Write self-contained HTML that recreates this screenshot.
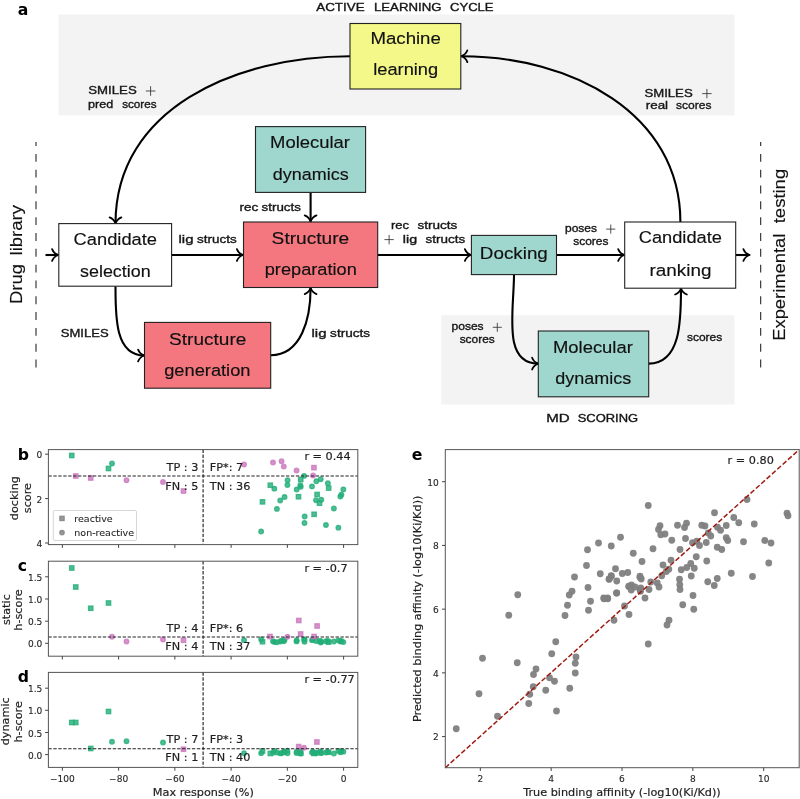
<!DOCTYPE html>
<html lang="en"><head><meta charset="utf-8"><title>Active learning cycle figure</title>
<style>html,body{margin:0;padding:0;background:#fff;}svg{display:block;}</style></head>
<body>
<svg width="800" height="799" viewBox="0 0 800 799">
<rect width="800" height="799" fill="#ffffff"/>
<rect x="58.5" y="14.5" width="676" height="101" fill="#f3f3f3"/>
<rect x="441.2" y="315.2" width="293.3" height="89.3" fill="#f3f3f3"/>
<path d="M350,56.2 C235.35,56.20 115.50,108.85 115.5,223.5" fill="none" stroke="#000000" stroke-width="2.1"/>
<path transform="translate(115.50 223.50) rotate(-270)" d="M-6.1,-5.9 C-5,-3 -2.7,-0.9 0.2,0 C-2.7,0.9 -5,3 -6.1,5.9" fill="none" stroke="#000000" stroke-width="1.78" stroke-linecap="round" stroke-linejoin="round"/>
<path d="M680.4,222 C680.40,112.64 570.66,56.20 461.3,56.2" fill="none" stroke="#000000" stroke-width="2.1"/>
<path transform="translate(461.30 56.20) rotate(-180)" d="M-6.1,-5.9 C-5,-3 -2.7,-0.9 0.2,0 C-2.7,0.9 -5,3 -6.1,5.9" fill="none" stroke="#000000" stroke-width="1.78" stroke-linecap="round" stroke-linejoin="round"/>
<path d="M310.6,192.5 L310.6,221.5" fill="none" stroke="#000000" stroke-width="2.1"/>
<path transform="translate(310.60 221.50) rotate(90.0)" d="M-6.1,-5.9 C-5,-3 -2.7,-0.9 0.2,0 C-2.7,0.9 -5,3 -6.1,5.9" fill="none" stroke="#000000" stroke-width="1.78" stroke-linecap="round" stroke-linejoin="round"/>
<path d="M45.5,255.0 L58.2,255.0" fill="none" stroke="#000000" stroke-width="2.1"/>
<path transform="translate(58.20 255.00) rotate(0.0)" d="M-6.1,-5.9 C-5,-3 -2.7,-0.9 0.2,0 C-2.7,0.9 -5,3 -6.1,5.9" fill="none" stroke="#000000" stroke-width="1.78" stroke-linecap="round" stroke-linejoin="round"/>
<path d="M171.7,255.0 L243,255.0" fill="none" stroke="#000000" stroke-width="2.1"/>
<path transform="translate(243.00 255.00) rotate(0.0)" d="M-6.1,-5.9 C-5,-3 -2.7,-0.9 0.2,0 C-2.7,0.9 -5,3 -6.1,5.9" fill="none" stroke="#000000" stroke-width="1.78" stroke-linecap="round" stroke-linejoin="round"/>
<path d="M377.7,255.0 L471,255.0" fill="none" stroke="#000000" stroke-width="2.1"/>
<path transform="translate(471.00 255.00) rotate(0.0)" d="M-6.1,-5.9 C-5,-3 -2.7,-0.9 0.2,0 C-2.7,0.9 -5,3 -6.1,5.9" fill="none" stroke="#000000" stroke-width="1.78" stroke-linecap="round" stroke-linejoin="round"/>
<path d="M556.5,255.0 L624.3,255.0" fill="none" stroke="#000000" stroke-width="2.1"/>
<path transform="translate(624.30 255.00) rotate(0.0)" d="M-6.1,-5.9 C-5,-3 -2.7,-0.9 0.2,0 C-2.7,0.9 -5,3 -6.1,5.9" fill="none" stroke="#000000" stroke-width="1.78" stroke-linecap="round" stroke-linejoin="round"/>
<path d="M735.7,255.0 L749.5,255.0" fill="none" stroke="#000000" stroke-width="2.1"/>
<path transform="translate(749.50 255.00) rotate(0.0)" d="M-6.1,-5.9 C-5,-3 -2.7,-0.9 0.2,0 C-2.7,0.9 -5,3 -6.1,5.9" fill="none" stroke="#000000" stroke-width="1.78" stroke-linecap="round" stroke-linejoin="round"/>
<path d="M115.5,286.2 C115.50,315.57 114.83,355.50 144.2,355.5" fill="none" stroke="#000000" stroke-width="2.1"/>
<path transform="translate(144.20 355.50) rotate(-360)" d="M-6.1,-5.9 C-5,-3 -2.7,-0.9 0.2,0 C-2.7,0.9 -5,3 -6.1,5.9" fill="none" stroke="#000000" stroke-width="1.78" stroke-linecap="round" stroke-linejoin="round"/>
<path d="M270.8,355.2 C301.38,355.20 310.60,318.58 310.6,288" fill="none" stroke="#000000" stroke-width="2.1"/>
<path transform="translate(310.60 288.00) rotate(-90)" d="M-6.1,-5.9 C-5,-3 -2.7,-0.9 0.2,0 C-2.7,0.9 -5,3 -6.1,5.9" fill="none" stroke="#000000" stroke-width="1.78" stroke-linecap="round" stroke-linejoin="round"/>
<path d="M514,274.6 C514.00,310.71 502.09,363.60 538.2,363.6" fill="none" stroke="#000000" stroke-width="2.1"/>
<path transform="translate(538.20 363.60) rotate(-360)" d="M-6.1,-5.9 C-5,-3 -2.7,-0.9 0.2,0 C-2.7,0.9 -5,3 -6.1,5.9" fill="none" stroke="#000000" stroke-width="1.78" stroke-linecap="round" stroke-linejoin="round"/>
<path d="M648.7,363.6 C680.74,363.60 681.00,320.44 681,288.4" fill="none" stroke="#000000" stroke-width="2.1"/>
<path transform="translate(681.00 288.40) rotate(-90)" d="M-6.1,-5.9 C-5,-3 -2.7,-0.9 0.2,0 C-2.7,0.9 -5,3 -6.1,5.9" fill="none" stroke="#000000" stroke-width="1.78" stroke-linecap="round" stroke-linejoin="round"/>
<rect x="350" y="23.5" width="110.80" height="65.50" fill="#f3f888" stroke="#222222" stroke-width="1.1"/>
<rect x="255.5" y="126.6" width="110.10" height="65.80" fill="#9fd6ce" stroke="#222222" stroke-width="1.1"/>
<rect x="58.8" y="223.6" width="112.80" height="62.60" fill="#ffffff" stroke="#222222" stroke-width="1.1"/>
<rect x="243.5" y="222" width="134.20" height="65.50" fill="#f4777f" stroke="#222222" stroke-width="1.1"/>
<rect x="471.4" y="235.4" width="85.10" height="39.20" fill="#9fd6ce" stroke="#222222" stroke-width="1.1"/>
<rect x="624.7" y="222" width="111.00" height="66.20" fill="#ffffff" stroke="#222222" stroke-width="1.1"/>
<rect x="144.5" y="322.4" width="126.20" height="65.80" fill="#f4777f" stroke="#222222" stroke-width="1.1"/>
<rect x="538.3" y="331" width="110.40" height="65.80" fill="#9fd6ce" stroke="#222222" stroke-width="1.1"/>
<path d="M36.0,142 V367.7" stroke="#3a3a3a" stroke-width="1.2" stroke-dasharray="7.9 7.92" stroke-dashoffset="3.92" fill="none"/>
<path d="M760.65,142 V367.7" stroke="#3a3a3a" stroke-width="1.2" stroke-dasharray="7.9 7.92" stroke-dashoffset="3.92" fill="none"/>
<text x="370.47" y="44.20" font-family='"Liberation Sans", sans-serif' font-size="16.8" textLength="70.35" lengthAdjust="spacingAndGlyphs" fill="#111111" stroke="#111111" stroke-width="0.15">Machine</text>
<text x="373.27" y="75.00" font-family='"Liberation Sans", sans-serif' font-size="16.8" textLength="64.90" lengthAdjust="spacingAndGlyphs" fill="#111111" stroke="#111111" stroke-width="0.15">learning</text>
<text x="270.09" y="148.00" font-family='"Liberation Sans", sans-serif' font-size="16.8" textLength="79.82" lengthAdjust="spacingAndGlyphs" fill="#111111" stroke="#111111" stroke-width="0.15">Molecular</text>
<text x="272.85" y="180.00" font-family='"Liberation Sans", sans-serif' font-size="16.8" textLength="75.80" lengthAdjust="spacingAndGlyphs" fill="#111111" stroke="#111111" stroke-width="0.15">dynamics</text>
<text x="73.57" y="245.00" font-family='"Liberation Sans", sans-serif' font-size="16.8" textLength="83.44" lengthAdjust="spacingAndGlyphs" fill="#111111" stroke="#111111" stroke-width="0.15">Candidate</text>
<text x="80.00" y="276.80" font-family='"Liberation Sans", sans-serif' font-size="16.8" textLength="70.66" lengthAdjust="spacingAndGlyphs" fill="#111111" stroke="#111111" stroke-width="0.15">selection</text>
<text x="271.63" y="243.60" font-family='"Liberation Sans", sans-serif' font-size="16.8" textLength="77.62" lengthAdjust="spacingAndGlyphs" fill="#111111" stroke="#111111" stroke-width="0.15">Structure</text>
<text x="264.73" y="275.40" font-family='"Liberation Sans", sans-serif' font-size="16.8" textLength="92.05" lengthAdjust="spacingAndGlyphs" fill="#111111" stroke="#111111" stroke-width="0.15">preparation</text>
<text x="479.86" y="259.00" font-family='"Liberation Sans", sans-serif' font-size="16.8" textLength="67.96" lengthAdjust="spacingAndGlyphs" fill="#111111" stroke="#111111" stroke-width="0.15">Docking</text>
<text x="638.77" y="243.30" font-family='"Liberation Sans", sans-serif' font-size="16.8" textLength="83.14" lengthAdjust="spacingAndGlyphs" fill="#111111" stroke="#111111" stroke-width="0.15">Candidate</text>
<text x="649.45" y="275.50" font-family='"Liberation Sans", sans-serif' font-size="16.8" textLength="61.97" lengthAdjust="spacingAndGlyphs" fill="#111111" stroke="#111111" stroke-width="0.15">ranking</text>
<text x="169.14" y="344.50" font-family='"Liberation Sans", sans-serif' font-size="16.8" textLength="77.21" lengthAdjust="spacingAndGlyphs" fill="#111111" stroke="#111111" stroke-width="0.15">Structure</text>
<text x="164.23" y="375.50" font-family='"Liberation Sans", sans-serif' font-size="16.8" textLength="86.25" lengthAdjust="spacingAndGlyphs" fill="#111111" stroke="#111111" stroke-width="0.15">generation</text>
<text x="552.99" y="352.60" font-family='"Liberation Sans", sans-serif' font-size="16.8" textLength="79.82" lengthAdjust="spacingAndGlyphs" fill="#111111" stroke="#111111" stroke-width="0.15">Molecular</text>
<text x="555.25" y="383.70" font-family='"Liberation Sans", sans-serif' font-size="16.8" textLength="75.90" lengthAdjust="spacingAndGlyphs" fill="#111111" stroke="#111111" stroke-width="0.15">dynamics</text>
<text x="316.27" y="10.50" font-family='"Liberation Sans", sans-serif' font-size="11.4" textLength="48.30" lengthAdjust="spacingAndGlyphs" fill="#161616" stroke="#161616" stroke-width="0.36">ACTIVE</text>
<text x="373.92" y="10.50" font-family='"Liberation Sans", sans-serif' font-size="11.4" textLength="67.57" lengthAdjust="spacingAndGlyphs" fill="#161616" stroke="#161616" stroke-width="0.36">LEARNING</text>
<text x="450.14" y="10.50" font-family='"Liberation Sans", sans-serif' font-size="11.4" textLength="43.42" lengthAdjust="spacingAndGlyphs" fill="#161616" stroke="#161616" stroke-width="0.36">CYCLE</text>
<text x="546.26" y="421.50" font-family='"Liberation Sans", sans-serif' font-size="11.4" textLength="23.46" lengthAdjust="spacingAndGlyphs" fill="#161616" stroke="#161616" stroke-width="0.36">MD</text>
<text x="577.71" y="421.50" font-family='"Liberation Sans", sans-serif' font-size="11.4" textLength="60.46" lengthAdjust="spacingAndGlyphs" fill="#161616" stroke="#161616" stroke-width="0.36">SCORING</text>
<text x="88.30" y="94.20" font-family='"Liberation Sans", sans-serif' font-size="11.4" textLength="48.40" lengthAdjust="spacingAndGlyphs" fill="#161616" stroke="#161616" stroke-width="0.36">SMILES</text>
<path d="M145.8,91 H155.4 M150.60000000000002,86.2 V95.8" stroke="#333" stroke-width="0.85" fill="none"/>
<text x="88.09" y="107.60" font-family='"Liberation Sans", sans-serif' font-size="11.4" textLength="25.22" lengthAdjust="spacingAndGlyphs" fill="#161616" stroke="#161616" stroke-width="0.36">pred</text>
<text x="122.17" y="107.60" font-family='"Liberation Sans", sans-serif' font-size="11.4" textLength="34.45" lengthAdjust="spacingAndGlyphs" fill="#161616" stroke="#161616" stroke-width="0.36">scores</text>
<text x="644.40" y="96.80" font-family='"Liberation Sans", sans-serif' font-size="11.4" textLength="48.30" lengthAdjust="spacingAndGlyphs" fill="#161616" stroke="#161616" stroke-width="0.36">SMILES</text>
<path d="M702.2,93.6 H711.6 M706.9000000000001,88.9 V98.29999999999998" stroke="#333" stroke-width="0.85" fill="none"/>
<text x="645.71" y="109.40" font-family='"Liberation Sans", sans-serif' font-size="11.4" textLength="22.39" lengthAdjust="spacingAndGlyphs" fill="#161616" stroke="#161616" stroke-width="0.36">real</text>
<text x="676.07" y="109.40" font-family='"Liberation Sans", sans-serif' font-size="11.4" textLength="35.37" lengthAdjust="spacingAndGlyphs" fill="#161616" stroke="#161616" stroke-width="0.36">scores</text>
<text x="239.50" y="211.00" font-family='"Liberation Sans", sans-serif' font-size="11.4" textLength="18.86" lengthAdjust="spacingAndGlyphs" fill="#161616" stroke="#161616" stroke-width="0.36">rec</text>
<text x="261.63" y="211.00" font-family='"Liberation Sans", sans-serif' font-size="11.4" textLength="39.25" lengthAdjust="spacingAndGlyphs" fill="#161616" stroke="#161616" stroke-width="0.36">structs</text>
<text x="178.49" y="242.50" font-family='"Liberation Sans", sans-serif' font-size="11.4" textLength="14.97" lengthAdjust="spacingAndGlyphs" fill="#161616" stroke="#161616" stroke-width="0.36">lig</text>
<text x="197.13" y="242.50" font-family='"Liberation Sans", sans-serif' font-size="11.4" textLength="39.56" lengthAdjust="spacingAndGlyphs" fill="#161616" stroke="#161616" stroke-width="0.36">structs</text>
<text x="391.04" y="229.40" font-family='"Liberation Sans", sans-serif' font-size="11.4" textLength="18.00" lengthAdjust="spacingAndGlyphs" fill="#161616" stroke="#161616" stroke-width="0.36">rec</text>
<text x="417.52" y="229.40" font-family='"Liberation Sans", sans-serif' font-size="11.4" textLength="39.87" lengthAdjust="spacingAndGlyphs" fill="#161616" stroke="#161616" stroke-width="0.36">structs</text>
<path d="M384.4,239.6 H393.8 M389.1,234.89999999999998 V244.3" stroke="#333" stroke-width="0.85" fill="none"/>
<text x="402.84" y="242.50" font-family='"Liberation Sans", sans-serif' font-size="11.4" textLength="14.28" lengthAdjust="spacingAndGlyphs" fill="#161616" stroke="#161616" stroke-width="0.36">lig</text>
<text x="425.63" y="242.50" font-family='"Liberation Sans", sans-serif' font-size="11.4" textLength="39.56" lengthAdjust="spacingAndGlyphs" fill="#161616" stroke="#161616" stroke-width="0.36">structs</text>
<text x="565.03" y="232.00" font-family='"Liberation Sans", sans-serif' font-size="11.4" textLength="32.01" lengthAdjust="spacingAndGlyphs" fill="#161616" stroke="#161616" stroke-width="0.36">poses</text>
<path d="M606.2,229.1 H615.3 M610.75,224.55000000000004 V233.64999999999995" stroke="#333" stroke-width="0.85" fill="none"/>
<text x="573.27" y="245.30" font-family='"Liberation Sans", sans-serif' font-size="11.4" textLength="35.16" lengthAdjust="spacingAndGlyphs" fill="#161616" stroke="#161616" stroke-width="0.36">scores</text>
<text x="60.71" y="336.80" font-family='"Liberation Sans", sans-serif' font-size="11.4" textLength="47.89" lengthAdjust="spacingAndGlyphs" fill="#161616" stroke="#161616" stroke-width="0.36">SMILES</text>
<text x="311.49" y="336.80" font-family='"Liberation Sans", sans-serif' font-size="11.4" textLength="14.97" lengthAdjust="spacingAndGlyphs" fill="#161616" stroke="#161616" stroke-width="0.36">lig</text>
<text x="330.12" y="336.80" font-family='"Liberation Sans", sans-serif' font-size="11.4" textLength="39.87" lengthAdjust="spacingAndGlyphs" fill="#161616" stroke="#161616" stroke-width="0.36">structs</text>
<text x="451.52" y="330.30" font-family='"Liberation Sans", sans-serif' font-size="11.4" textLength="32.11" lengthAdjust="spacingAndGlyphs" fill="#161616" stroke="#161616" stroke-width="0.36">poses</text>
<path d="M492.8,327.3 H501.8 M497.3,322.8 V331.8" stroke="#333" stroke-width="0.85" fill="none"/>
<text x="459.67" y="343.30" font-family='"Liberation Sans", sans-serif' font-size="11.4" textLength="35.06" lengthAdjust="spacingAndGlyphs" fill="#161616" stroke="#161616" stroke-width="0.36">scores</text>
<text x="686.97" y="341.20" font-family='"Liberation Sans", sans-serif' font-size="11.4" textLength="35.27" lengthAdjust="spacingAndGlyphs" fill="#161616" stroke="#161616" stroke-width="0.36">scores</text>
<text x="22.20" y="304.02" font-family='"Liberation Sans", sans-serif' font-size="16.8" textLength="40.22" lengthAdjust="spacingAndGlyphs" transform="rotate(-90 22.20 304.02)" fill="#111111" stroke="#111111" stroke-width="0.15">Drug</text>
<text x="22.20" y="255.45" font-family='"Liberation Sans", sans-serif' font-size="16.8" textLength="50.49" lengthAdjust="spacingAndGlyphs" transform="rotate(-90 22.20 255.45)" fill="#111111" stroke="#111111" stroke-width="0.15">library</text>
<text x="785.50" y="340.70" font-family='"Liberation Sans", sans-serif' font-size="16.8" textLength="106.93" lengthAdjust="spacingAndGlyphs" transform="rotate(-90 785.50 340.70)" fill="#111111" stroke="#111111" stroke-width="0.15">Experimental</text>
<text x="785.50" y="223.28" font-family='"Liberation Sans", sans-serif' font-size="16.8" textLength="54.47" lengthAdjust="spacingAndGlyphs" transform="rotate(-90 785.50 223.28)" fill="#111111" stroke="#111111" stroke-width="0.15">testing</text>
<text x="17.80" y="15.00" font-family='"DejaVu Sans", sans-serif' font-size="15.7" font-weight="bold" fill="#000">a</text>
<text x="17.80" y="459.95" font-family='"DejaVu Sans", sans-serif' font-size="15.7" font-weight="bold" fill="#000">b</text>
<text x="17.80" y="571.10" font-family='"DejaVu Sans", sans-serif' font-size="15.7" font-weight="bold" fill="#000">c</text>
<text x="17.80" y="682.30" font-family='"DejaVu Sans", sans-serif' font-size="15.7" font-weight="bold" fill="#000">d</text>
<text x="411.80" y="460.30" font-family='"DejaVu Sans", sans-serif' font-size="15.7" font-weight="bold" fill="#000">e</text>
<rect x="69.55" y="453.30" width="4.40" height="4.40" fill="#23ae78" fill-opacity="0.8" stroke="#23ae78" stroke-opacity="0.8" stroke-width="1.3"/>
<rect x="73.55" y="473.80" width="4.40" height="4.40" fill="#cc77be" fill-opacity="0.8" stroke="#cc77be" stroke-opacity="0.8" stroke-width="1.3"/>
<rect x="88.55" y="475.80" width="4.40" height="4.40" fill="#cc77be" fill-opacity="0.8" stroke="#cc77be" stroke-opacity="0.8" stroke-width="1.3"/>
<rect x="106.30" y="466.30" width="4.40" height="4.40" fill="#23ae78" fill-opacity="0.8" stroke="#23ae78" stroke-opacity="0.8" stroke-width="1.3"/>
<circle cx="112.00" cy="463.50" r="2.30" fill="#23ae78" fill-opacity="0.8" stroke="#23ae78" stroke-opacity="0.8" stroke-width="1.3"/>
<circle cx="126.50" cy="480.25" r="2.30" fill="#cc77be" fill-opacity="0.8" stroke="#cc77be" stroke-opacity="0.8" stroke-width="1.3"/>
<circle cx="163.00" cy="482.00" r="2.30" fill="#cc77be" fill-opacity="0.8" stroke="#cc77be" stroke-opacity="0.8" stroke-width="1.3"/>
<rect x="181.30" y="488.80" width="4.40" height="4.40" fill="#cc77be" fill-opacity="0.8" stroke="#cc77be" stroke-opacity="0.8" stroke-width="1.3"/>
<circle cx="244.05" cy="464.50" r="2.30" fill="#cc77be" fill-opacity="0.8" stroke="#cc77be" stroke-opacity="0.8" stroke-width="1.3"/>
<circle cx="273.00" cy="462.55" r="2.30" fill="#cc77be" fill-opacity="0.8" stroke="#cc77be" stroke-opacity="0.8" stroke-width="1.3"/>
<circle cx="281.55" cy="461.20" r="2.30" fill="#cc77be" fill-opacity="0.8" stroke="#cc77be" stroke-opacity="0.8" stroke-width="1.3"/>
<circle cx="283.80" cy="466.45" r="2.30" fill="#cc77be" fill-opacity="0.8" stroke="#cc77be" stroke-opacity="0.8" stroke-width="1.3"/>
<circle cx="296.55" cy="470.50" r="2.30" fill="#cc77be" fill-opacity="0.8" stroke="#cc77be" stroke-opacity="0.8" stroke-width="1.3"/>
<circle cx="313.05" cy="475.45" r="2.30" fill="#cc77be" fill-opacity="0.8" stroke="#cc77be" stroke-opacity="0.8" stroke-width="1.3"/>
<rect x="311.75" y="465.45" width="4.40" height="4.40" fill="#cc77be" fill-opacity="0.8" stroke="#cc77be" stroke-opacity="0.8" stroke-width="1.3"/>
<circle cx="304.05" cy="475.90" r="2.30" fill="#23ae78" fill-opacity="0.8" stroke="#23ae78" stroke-opacity="0.8" stroke-width="1.3"/>
<circle cx="287.55" cy="480.25" r="2.30" fill="#23ae78" fill-opacity="0.8" stroke="#23ae78" stroke-opacity="0.8" stroke-width="1.3"/>
<circle cx="287.40" cy="485.05" r="2.30" fill="#23ae78" fill-opacity="0.8" stroke="#23ae78" stroke-opacity="0.8" stroke-width="1.3"/>
<circle cx="274.35" cy="488.65" r="2.30" fill="#23ae78" fill-opacity="0.8" stroke="#23ae78" stroke-opacity="0.8" stroke-width="1.3"/>
<circle cx="300.30" cy="485.20" r="2.30" fill="#23ae78" fill-opacity="0.8" stroke="#23ae78" stroke-opacity="0.8" stroke-width="1.3"/>
<circle cx="300.75" cy="486.85" r="2.30" fill="#23ae78" fill-opacity="0.8" stroke="#23ae78" stroke-opacity="0.8" stroke-width="1.3"/>
<circle cx="296.70" cy="489.55" r="2.30" fill="#23ae78" fill-opacity="0.8" stroke="#23ae78" stroke-opacity="0.8" stroke-width="1.3"/>
<circle cx="312.00" cy="486.40" r="2.30" fill="#23ae78" fill-opacity="0.8" stroke="#23ae78" stroke-opacity="0.8" stroke-width="1.3"/>
<circle cx="316.35" cy="481.30" r="2.30" fill="#23ae78" fill-opacity="0.8" stroke="#23ae78" stroke-opacity="0.8" stroke-width="1.3"/>
<circle cx="320.70" cy="479.20" r="2.30" fill="#23ae78" fill-opacity="0.8" stroke="#23ae78" stroke-opacity="0.8" stroke-width="1.3"/>
<circle cx="327.90" cy="483.25" r="2.30" fill="#23ae78" fill-opacity="0.8" stroke="#23ae78" stroke-opacity="0.8" stroke-width="1.3"/>
<circle cx="343.35" cy="489.40" r="2.30" fill="#23ae78" fill-opacity="0.8" stroke="#23ae78" stroke-opacity="0.8" stroke-width="1.3"/>
<circle cx="341.40" cy="494.65" r="2.30" fill="#23ae78" fill-opacity="0.8" stroke="#23ae78" stroke-opacity="0.8" stroke-width="1.3"/>
<circle cx="340.35" cy="496.45" r="2.30" fill="#23ae78" fill-opacity="0.8" stroke="#23ae78" stroke-opacity="0.8" stroke-width="1.3"/>
<circle cx="284.55" cy="497.05" r="2.30" fill="#23ae78" fill-opacity="0.8" stroke="#23ae78" stroke-opacity="0.8" stroke-width="1.3"/>
<circle cx="280.20" cy="500.50" r="2.30" fill="#23ae78" fill-opacity="0.8" stroke="#23ae78" stroke-opacity="0.8" stroke-width="1.3"/>
<circle cx="276.90" cy="508.90" r="2.30" fill="#23ae78" fill-opacity="0.8" stroke="#23ae78" stroke-opacity="0.8" stroke-width="1.3"/>
<circle cx="316.05" cy="500.20" r="2.30" fill="#23ae78" fill-opacity="0.8" stroke="#23ae78" stroke-opacity="0.8" stroke-width="1.3"/>
<circle cx="321.30" cy="499.75" r="2.30" fill="#23ae78" fill-opacity="0.8" stroke="#23ae78" stroke-opacity="0.8" stroke-width="1.3"/>
<circle cx="333.90" cy="508.45" r="2.30" fill="#23ae78" fill-opacity="0.8" stroke="#23ae78" stroke-opacity="0.8" stroke-width="1.3"/>
<circle cx="304.65" cy="516.55" r="2.30" fill="#23ae78" fill-opacity="0.8" stroke="#23ae78" stroke-opacity="0.8" stroke-width="1.3"/>
<circle cx="304.50" cy="523.00" r="2.30" fill="#23ae78" fill-opacity="0.8" stroke="#23ae78" stroke-opacity="0.8" stroke-width="1.3"/>
<circle cx="325.95" cy="524.95" r="2.30" fill="#23ae78" fill-opacity="0.8" stroke="#23ae78" stroke-opacity="0.8" stroke-width="1.3"/>
<circle cx="338.40" cy="527.80" r="2.30" fill="#23ae78" fill-opacity="0.8" stroke="#23ae78" stroke-opacity="0.8" stroke-width="1.3"/>
<circle cx="261.15" cy="531.55" r="2.30" fill="#23ae78" fill-opacity="0.8" stroke="#23ae78" stroke-opacity="0.8" stroke-width="1.3"/>
<rect x="268.10" y="483.00" width="4.40" height="4.40" fill="#23ae78" fill-opacity="0.8" stroke="#23ae78" stroke-opacity="0.8" stroke-width="1.3"/>
<rect x="298.55" y="477.30" width="4.40" height="4.40" fill="#23ae78" fill-opacity="0.8" stroke="#23ae78" stroke-opacity="0.8" stroke-width="1.3"/>
<rect x="326.45" y="485.85" width="4.40" height="4.40" fill="#23ae78" fill-opacity="0.8" stroke="#23ae78" stroke-opacity="0.8" stroke-width="1.3"/>
<rect x="314.90" y="492.30" width="4.40" height="4.40" fill="#23ae78" fill-opacity="0.8" stroke="#23ae78" stroke-opacity="0.8" stroke-width="1.3"/>
<rect x="296.30" y="494.55" width="4.40" height="4.40" fill="#23ae78" fill-opacity="0.8" stroke="#23ae78" stroke-opacity="0.8" stroke-width="1.3"/>
<rect x="317.30" y="501.00" width="4.40" height="4.40" fill="#23ae78" fill-opacity="0.8" stroke="#23ae78" stroke-opacity="0.8" stroke-width="1.3"/>
<rect x="260.30" y="499.65" width="4.40" height="4.40" fill="#23ae78" fill-opacity="0.8" stroke="#23ae78" stroke-opacity="0.8" stroke-width="1.3"/>
<rect x="311.90" y="512.10" width="4.40" height="4.40" fill="#23ae78" fill-opacity="0.8" stroke="#23ae78" stroke-opacity="0.8" stroke-width="1.3"/>
<path d="M48.4,476.0 H357.8" stroke="#222" stroke-width="1.15" stroke-dasharray="3.35 1.6" fill="none"/>
<path d="M203.1,449.6 V544.6" stroke="#222" stroke-width="1.15" stroke-dasharray="3.35 1.6" fill="none"/>
<rect x="48.4" y="449.6" width="309.40" height="95.00" fill="none" stroke="#555555" stroke-width="1"/>
<path d="M62.35,544.6 v3.3" stroke="#444" stroke-width="1"/>
<path d="M118.60,544.6 v3.3" stroke="#444" stroke-width="1"/>
<path d="M174.85,544.6 v3.3" stroke="#444" stroke-width="1"/>
<path d="M231.10,544.6 v3.3" stroke="#444" stroke-width="1"/>
<path d="M287.35,544.6 v3.3" stroke="#444" stroke-width="1"/>
<path d="M343.60,544.6 v3.3" stroke="#444" stroke-width="1"/>
<rect x="69.55" y="565.80" width="4.40" height="4.40" fill="#23ae78" fill-opacity="0.8" stroke="#23ae78" stroke-opacity="0.8" stroke-width="1.3"/>
<rect x="73.55" y="584.80" width="4.40" height="4.40" fill="#23ae78" fill-opacity="0.8" stroke="#23ae78" stroke-opacity="0.8" stroke-width="1.3"/>
<rect x="88.55" y="606.05" width="4.40" height="4.40" fill="#23ae78" fill-opacity="0.8" stroke="#23ae78" stroke-opacity="0.8" stroke-width="1.3"/>
<rect x="106.30" y="600.80" width="4.40" height="4.40" fill="#23ae78" fill-opacity="0.8" stroke="#23ae78" stroke-opacity="0.8" stroke-width="1.3"/>
<circle cx="112.00" cy="636.75" r="2.30" fill="#cc77be" fill-opacity="0.8" stroke="#cc77be" stroke-opacity="0.8" stroke-width="1.3"/>
<circle cx="126.50" cy="641.50" r="2.30" fill="#cc77be" fill-opacity="0.8" stroke="#cc77be" stroke-opacity="0.8" stroke-width="1.3"/>
<circle cx="163.00" cy="639.50" r="2.30" fill="#cc77be" fill-opacity="0.8" stroke="#cc77be" stroke-opacity="0.8" stroke-width="1.3"/>
<rect x="181.30" y="638.05" width="4.40" height="4.40" fill="#cc77be" fill-opacity="0.8" stroke="#cc77be" stroke-opacity="0.8" stroke-width="1.3"/>
<circle cx="244.05" cy="640.16" r="2.30" fill="#23ae78" fill-opacity="0.8" stroke="#23ae78" stroke-opacity="0.8" stroke-width="1.3"/>
<circle cx="273.00" cy="641.14" r="2.30" fill="#23ae78" fill-opacity="0.8" stroke="#23ae78" stroke-opacity="0.8" stroke-width="1.3"/>
<circle cx="281.55" cy="640.58" r="2.30" fill="#23ae78" fill-opacity="0.8" stroke="#23ae78" stroke-opacity="0.8" stroke-width="1.3"/>
<circle cx="283.80" cy="641.33" r="2.30" fill="#23ae78" fill-opacity="0.8" stroke="#23ae78" stroke-opacity="0.8" stroke-width="1.3"/>
<circle cx="296.55" cy="641.40" r="2.30" fill="#23ae78" fill-opacity="0.8" stroke="#23ae78" stroke-opacity="0.8" stroke-width="1.3"/>
<circle cx="313.05" cy="639.61" r="2.30" fill="#23ae78" fill-opacity="0.8" stroke="#23ae78" stroke-opacity="0.8" stroke-width="1.3"/>
<circle cx="304.05" cy="639.44" r="2.30" fill="#23ae78" fill-opacity="0.8" stroke="#23ae78" stroke-opacity="0.8" stroke-width="1.3"/>
<circle cx="274.35" cy="642.08" r="2.30" fill="#23ae78" fill-opacity="0.8" stroke="#23ae78" stroke-opacity="0.8" stroke-width="1.3"/>
<circle cx="296.70" cy="640.23" r="2.30" fill="#23ae78" fill-opacity="0.8" stroke="#23ae78" stroke-opacity="0.8" stroke-width="1.3"/>
<circle cx="312.00" cy="640.15" r="2.30" fill="#23ae78" fill-opacity="0.8" stroke="#23ae78" stroke-opacity="0.8" stroke-width="1.3"/>
<circle cx="320.70" cy="642.59" r="2.30" fill="#23ae78" fill-opacity="0.8" stroke="#23ae78" stroke-opacity="0.8" stroke-width="1.3"/>
<circle cx="327.90" cy="640.90" r="2.30" fill="#23ae78" fill-opacity="0.8" stroke="#23ae78" stroke-opacity="0.8" stroke-width="1.3"/>
<circle cx="343.35" cy="642.08" r="2.30" fill="#23ae78" fill-opacity="0.8" stroke="#23ae78" stroke-opacity="0.8" stroke-width="1.3"/>
<circle cx="341.40" cy="640.92" r="2.30" fill="#23ae78" fill-opacity="0.8" stroke="#23ae78" stroke-opacity="0.8" stroke-width="1.3"/>
<circle cx="340.35" cy="641.45" r="2.30" fill="#23ae78" fill-opacity="0.8" stroke="#23ae78" stroke-opacity="0.8" stroke-width="1.3"/>
<circle cx="284.55" cy="639.88" r="2.30" fill="#23ae78" fill-opacity="0.8" stroke="#23ae78" stroke-opacity="0.8" stroke-width="1.3"/>
<circle cx="280.20" cy="641.43" r="2.30" fill="#23ae78" fill-opacity="0.8" stroke="#23ae78" stroke-opacity="0.8" stroke-width="1.3"/>
<circle cx="276.90" cy="642.18" r="2.30" fill="#23ae78" fill-opacity="0.8" stroke="#23ae78" stroke-opacity="0.8" stroke-width="1.3"/>
<circle cx="316.05" cy="641.07" r="2.30" fill="#23ae78" fill-opacity="0.8" stroke="#23ae78" stroke-opacity="0.8" stroke-width="1.3"/>
<circle cx="321.30" cy="641.77" r="2.30" fill="#23ae78" fill-opacity="0.8" stroke="#23ae78" stroke-opacity="0.8" stroke-width="1.3"/>
<circle cx="333.90" cy="641.55" r="2.30" fill="#23ae78" fill-opacity="0.8" stroke="#23ae78" stroke-opacity="0.8" stroke-width="1.3"/>
<circle cx="304.65" cy="639.60" r="2.30" fill="#23ae78" fill-opacity="0.8" stroke="#23ae78" stroke-opacity="0.8" stroke-width="1.3"/>
<circle cx="304.50" cy="641.83" r="2.30" fill="#23ae78" fill-opacity="0.8" stroke="#23ae78" stroke-opacity="0.8" stroke-width="1.3"/>
<circle cx="325.95" cy="641.29" r="2.30" fill="#23ae78" fill-opacity="0.8" stroke="#23ae78" stroke-opacity="0.8" stroke-width="1.3"/>
<circle cx="338.40" cy="640.36" r="2.30" fill="#23ae78" fill-opacity="0.8" stroke="#23ae78" stroke-opacity="0.8" stroke-width="1.3"/>
<circle cx="261.15" cy="639.50" r="2.30" fill="#23ae78" fill-opacity="0.8" stroke="#23ae78" stroke-opacity="0.8" stroke-width="1.3"/>
<rect x="326.45" y="639.97" width="4.40" height="4.40" fill="#23ae78" fill-opacity="0.8" stroke="#23ae78" stroke-opacity="0.8" stroke-width="1.3"/>
<rect x="317.30" y="638.71" width="4.40" height="4.40" fill="#23ae78" fill-opacity="0.8" stroke="#23ae78" stroke-opacity="0.8" stroke-width="1.3"/>
<rect x="260.30" y="639.50" width="4.40" height="4.40" fill="#23ae78" fill-opacity="0.8" stroke="#23ae78" stroke-opacity="0.8" stroke-width="1.3"/>
<rect x="296.60" y="618.30" width="4.40" height="4.40" fill="#cc77be" fill-opacity="0.8" stroke="#cc77be" stroke-opacity="0.8" stroke-width="1.3"/>
<rect x="314.90" y="623.80" width="4.40" height="4.40" fill="#cc77be" fill-opacity="0.8" stroke="#cc77be" stroke-opacity="0.8" stroke-width="1.3"/>
<rect x="298.40" y="631.80" width="4.40" height="4.40" fill="#cc77be" fill-opacity="0.8" stroke="#cc77be" stroke-opacity="0.8" stroke-width="1.3"/>
<rect x="267.80" y="634.30" width="4.40" height="4.40" fill="#cc77be" fill-opacity="0.8" stroke="#cc77be" stroke-opacity="0.8" stroke-width="1.3"/>
<rect x="311.90" y="634.30" width="4.40" height="4.40" fill="#cc77be" fill-opacity="0.8" stroke="#cc77be" stroke-opacity="0.8" stroke-width="1.3"/>
<circle cx="287.50" cy="636.70" r="2.30" fill="#cc77be" fill-opacity="0.8" stroke="#cc77be" stroke-opacity="0.8" stroke-width="1.3"/>
<path d="M48.4,637.0 H357.8" stroke="#222" stroke-width="1.15" stroke-dasharray="3.35 1.6" fill="none"/>
<path d="M203.1,561.2 V656.2" stroke="#222" stroke-width="1.15" stroke-dasharray="3.35 1.6" fill="none"/>
<rect x="48.4" y="561.2" width="309.40" height="95.00" fill="none" stroke="#555555" stroke-width="1"/>
<path d="M62.35,656.2 v3.3" stroke="#444" stroke-width="1"/>
<path d="M118.60,656.2 v3.3" stroke="#444" stroke-width="1"/>
<path d="M174.85,656.2 v3.3" stroke="#444" stroke-width="1"/>
<path d="M231.10,656.2 v3.3" stroke="#444" stroke-width="1"/>
<path d="M287.35,656.2 v3.3" stroke="#444" stroke-width="1"/>
<path d="M343.60,656.2 v3.3" stroke="#444" stroke-width="1"/>
<rect x="69.55" y="720.30" width="4.40" height="4.40" fill="#23ae78" fill-opacity="0.8" stroke="#23ae78" stroke-opacity="0.8" stroke-width="1.3"/>
<rect x="73.55" y="720.30" width="4.40" height="4.40" fill="#23ae78" fill-opacity="0.8" stroke="#23ae78" stroke-opacity="0.8" stroke-width="1.3"/>
<rect x="88.55" y="746.30" width="4.40" height="4.40" fill="#23ae78" fill-opacity="0.8" stroke="#23ae78" stroke-opacity="0.8" stroke-width="1.3"/>
<rect x="106.30" y="709.30" width="4.40" height="4.40" fill="#23ae78" fill-opacity="0.8" stroke="#23ae78" stroke-opacity="0.8" stroke-width="1.3"/>
<circle cx="112.00" cy="741.75" r="2.30" fill="#23ae78" fill-opacity="0.8" stroke="#23ae78" stroke-opacity="0.8" stroke-width="1.3"/>
<circle cx="126.50" cy="741.25" r="2.30" fill="#23ae78" fill-opacity="0.8" stroke="#23ae78" stroke-opacity="0.8" stroke-width="1.3"/>
<circle cx="163.00" cy="742.50" r="2.30" fill="#23ae78" fill-opacity="0.8" stroke="#23ae78" stroke-opacity="0.8" stroke-width="1.3"/>
<rect x="181.30" y="747.05" width="4.40" height="4.40" fill="#cc77be" fill-opacity="0.8" stroke="#cc77be" stroke-opacity="0.8" stroke-width="1.3"/>
<circle cx="244.05" cy="753.21" r="2.30" fill="#23ae78" fill-opacity="0.8" stroke="#23ae78" stroke-opacity="0.8" stroke-width="1.3"/>
<circle cx="273.00" cy="752.69" r="2.30" fill="#23ae78" fill-opacity="0.8" stroke="#23ae78" stroke-opacity="0.8" stroke-width="1.3"/>
<circle cx="281.55" cy="753.35" r="2.30" fill="#23ae78" fill-opacity="0.8" stroke="#23ae78" stroke-opacity="0.8" stroke-width="1.3"/>
<circle cx="283.80" cy="751.66" r="2.30" fill="#23ae78" fill-opacity="0.8" stroke="#23ae78" stroke-opacity="0.8" stroke-width="1.3"/>
<circle cx="296.55" cy="752.96" r="2.30" fill="#23ae78" fill-opacity="0.8" stroke="#23ae78" stroke-opacity="0.8" stroke-width="1.3"/>
<circle cx="313.05" cy="751.82" r="2.30" fill="#23ae78" fill-opacity="0.8" stroke="#23ae78" stroke-opacity="0.8" stroke-width="1.3"/>
<rect x="311.75" y="751.19" width="4.40" height="4.40" fill="#23ae78" fill-opacity="0.8" stroke="#23ae78" stroke-opacity="0.8" stroke-width="1.3"/>
<circle cx="287.55" cy="753.21" r="2.30" fill="#23ae78" fill-opacity="0.8" stroke="#23ae78" stroke-opacity="0.8" stroke-width="1.3"/>
<circle cx="287.40" cy="750.71" r="2.30" fill="#23ae78" fill-opacity="0.8" stroke="#23ae78" stroke-opacity="0.8" stroke-width="1.3"/>
<circle cx="274.35" cy="750.84" r="2.30" fill="#23ae78" fill-opacity="0.8" stroke="#23ae78" stroke-opacity="0.8" stroke-width="1.3"/>
<circle cx="300.30" cy="751.09" r="2.30" fill="#23ae78" fill-opacity="0.8" stroke="#23ae78" stroke-opacity="0.8" stroke-width="1.3"/>
<circle cx="300.75" cy="753.49" r="2.30" fill="#23ae78" fill-opacity="0.8" stroke="#23ae78" stroke-opacity="0.8" stroke-width="1.3"/>
<circle cx="296.70" cy="751.80" r="2.30" fill="#23ae78" fill-opacity="0.8" stroke="#23ae78" stroke-opacity="0.8" stroke-width="1.3"/>
<circle cx="312.00" cy="752.41" r="2.30" fill="#23ae78" fill-opacity="0.8" stroke="#23ae78" stroke-opacity="0.8" stroke-width="1.3"/>
<circle cx="320.70" cy="751.36" r="2.30" fill="#23ae78" fill-opacity="0.8" stroke="#23ae78" stroke-opacity="0.8" stroke-width="1.3"/>
<circle cx="327.90" cy="752.02" r="2.30" fill="#23ae78" fill-opacity="0.8" stroke="#23ae78" stroke-opacity="0.8" stroke-width="1.3"/>
<circle cx="343.35" cy="751.63" r="2.30" fill="#23ae78" fill-opacity="0.8" stroke="#23ae78" stroke-opacity="0.8" stroke-width="1.3"/>
<circle cx="341.40" cy="751.52" r="2.30" fill="#23ae78" fill-opacity="0.8" stroke="#23ae78" stroke-opacity="0.8" stroke-width="1.3"/>
<circle cx="340.35" cy="752.27" r="2.30" fill="#23ae78" fill-opacity="0.8" stroke="#23ae78" stroke-opacity="0.8" stroke-width="1.3"/>
<circle cx="284.55" cy="752.27" r="2.30" fill="#23ae78" fill-opacity="0.8" stroke="#23ae78" stroke-opacity="0.8" stroke-width="1.3"/>
<circle cx="280.20" cy="753.29" r="2.30" fill="#23ae78" fill-opacity="0.8" stroke="#23ae78" stroke-opacity="0.8" stroke-width="1.3"/>
<circle cx="276.90" cy="752.58" r="2.30" fill="#23ae78" fill-opacity="0.8" stroke="#23ae78" stroke-opacity="0.8" stroke-width="1.3"/>
<circle cx="316.05" cy="753.37" r="2.30" fill="#23ae78" fill-opacity="0.8" stroke="#23ae78" stroke-opacity="0.8" stroke-width="1.3"/>
<circle cx="321.30" cy="753.14" r="2.30" fill="#23ae78" fill-opacity="0.8" stroke="#23ae78" stroke-opacity="0.8" stroke-width="1.3"/>
<circle cx="333.90" cy="753.57" r="2.30" fill="#23ae78" fill-opacity="0.8" stroke="#23ae78" stroke-opacity="0.8" stroke-width="1.3"/>
<circle cx="325.95" cy="752.55" r="2.30" fill="#23ae78" fill-opacity="0.8" stroke="#23ae78" stroke-opacity="0.8" stroke-width="1.3"/>
<circle cx="338.40" cy="750.92" r="2.30" fill="#23ae78" fill-opacity="0.8" stroke="#23ae78" stroke-opacity="0.8" stroke-width="1.3"/>
<circle cx="261.15" cy="753.15" r="2.30" fill="#23ae78" fill-opacity="0.8" stroke="#23ae78" stroke-opacity="0.8" stroke-width="1.3"/>
<rect x="268.10" y="751.29" width="4.40" height="4.40" fill="#23ae78" fill-opacity="0.8" stroke="#23ae78" stroke-opacity="0.8" stroke-width="1.3"/>
<rect x="298.55" y="751.10" width="4.40" height="4.40" fill="#23ae78" fill-opacity="0.8" stroke="#23ae78" stroke-opacity="0.8" stroke-width="1.3"/>
<rect x="326.45" y="750.02" width="4.40" height="4.40" fill="#23ae78" fill-opacity="0.8" stroke="#23ae78" stroke-opacity="0.8" stroke-width="1.3"/>
<rect x="317.30" y="750.48" width="4.40" height="4.40" fill="#23ae78" fill-opacity="0.8" stroke="#23ae78" stroke-opacity="0.8" stroke-width="1.3"/>
<rect x="260.30" y="748.88" width="4.40" height="4.40" fill="#23ae78" fill-opacity="0.8" stroke="#23ae78" stroke-opacity="0.8" stroke-width="1.3"/>
<rect x="311.90" y="750.86" width="4.40" height="4.40" fill="#23ae78" fill-opacity="0.8" stroke="#23ae78" stroke-opacity="0.8" stroke-width="1.3"/>
<rect x="314.70" y="739.80" width="4.40" height="4.40" fill="#cc77be" fill-opacity="0.8" stroke="#cc77be" stroke-opacity="0.8" stroke-width="1.3"/>
<rect x="296.50" y="744.40" width="4.40" height="4.40" fill="#cc77be" fill-opacity="0.8" stroke="#cc77be" stroke-opacity="0.8" stroke-width="1.3"/>
<circle cx="304.00" cy="747.80" r="2.30" fill="#cc77be" fill-opacity="0.8" stroke="#cc77be" stroke-opacity="0.8" stroke-width="1.3"/>
<path d="M48.4,748.7 H357.8" stroke="#222" stroke-width="1.15" stroke-dasharray="3.35 1.6" fill="none"/>
<path d="M203.1,672.4 V767.4" stroke="#222" stroke-width="1.15" stroke-dasharray="3.35 1.6" fill="none"/>
<rect x="48.4" y="672.4" width="309.40" height="95.00" fill="none" stroke="#555555" stroke-width="1"/>
<path d="M62.35,767.4 v3.3" stroke="#444" stroke-width="1"/>
<path d="M118.60,767.4 v3.3" stroke="#444" stroke-width="1"/>
<path d="M174.85,767.4 v3.3" stroke="#444" stroke-width="1"/>
<path d="M231.10,767.4 v3.3" stroke="#444" stroke-width="1"/>
<path d="M287.35,767.4 v3.3" stroke="#444" stroke-width="1"/>
<path d="M343.60,767.4 v3.3" stroke="#444" stroke-width="1"/>
<path d="M48.4,454.2 h-3.3" stroke="#444" stroke-width="1"/>
<text x="42.30" y="458.30" font-family='"DejaVu Sans", sans-serif' font-size="9.05" text-anchor="end" fill="#1f1f1f" stroke="#1f1f1f" stroke-width="0.1">0</text>
<path d="M48.4,498.6 h-3.3" stroke="#444" stroke-width="1"/>
<text x="42.30" y="502.70" font-family='"DejaVu Sans", sans-serif' font-size="9.05" text-anchor="end" fill="#1f1f1f" stroke="#1f1f1f" stroke-width="0.1">2</text>
<path d="M48.4,543 h-3.3" stroke="#444" stroke-width="1"/>
<text x="42.30" y="547.10" font-family='"DejaVu Sans", sans-serif' font-size="9.05" text-anchor="end" fill="#1f1f1f" stroke="#1f1f1f" stroke-width="0.1">4</text>
<path d="M48.4,576.8 h-3.3" stroke="#444" stroke-width="1"/>
<text x="42.30" y="580.90" font-family='"DejaVu Sans", sans-serif' font-size="9.05" text-anchor="end" fill="#1f1f1f" stroke="#1f1f1f" stroke-width="0.1">1.5</text>
<path d="M48.4,599 h-3.3" stroke="#444" stroke-width="1"/>
<text x="42.30" y="603.10" font-family='"DejaVu Sans", sans-serif' font-size="9.05" text-anchor="end" fill="#1f1f1f" stroke="#1f1f1f" stroke-width="0.1">1.0</text>
<path d="M48.4,621.2 h-3.3" stroke="#444" stroke-width="1"/>
<text x="42.30" y="625.30" font-family='"DejaVu Sans", sans-serif' font-size="9.05" text-anchor="end" fill="#1f1f1f" stroke="#1f1f1f" stroke-width="0.1">0.5</text>
<path d="M48.4,643.3 h-3.3" stroke="#444" stroke-width="1"/>
<text x="42.30" y="647.40" font-family='"DejaVu Sans", sans-serif' font-size="9.05" text-anchor="end" fill="#1f1f1f" stroke="#1f1f1f" stroke-width="0.1">0.0</text>
<path d="M48.4,688.2 h-3.3" stroke="#444" stroke-width="1"/>
<text x="42.30" y="692.30" font-family='"DejaVu Sans", sans-serif' font-size="9.05" text-anchor="end" fill="#1f1f1f" stroke="#1f1f1f" stroke-width="0.1">1.5</text>
<path d="M48.4,710.3 h-3.3" stroke="#444" stroke-width="1"/>
<text x="42.30" y="714.40" font-family='"DejaVu Sans", sans-serif' font-size="9.05" text-anchor="end" fill="#1f1f1f" stroke="#1f1f1f" stroke-width="0.1">1.0</text>
<path d="M48.4,732.5 h-3.3" stroke="#444" stroke-width="1"/>
<text x="42.30" y="736.60" font-family='"DejaVu Sans", sans-serif' font-size="9.05" text-anchor="end" fill="#1f1f1f" stroke="#1f1f1f" stroke-width="0.1">0.5</text>
<path d="M48.4,754.6 h-3.3" stroke="#444" stroke-width="1"/>
<text x="42.30" y="758.70" font-family='"DejaVu Sans", sans-serif' font-size="9.05" text-anchor="end" fill="#1f1f1f" stroke="#1f1f1f" stroke-width="0.1">0.0</text>
<text x="62.35" y="782.20" font-family='"DejaVu Sans", sans-serif' font-size="9.05" text-anchor="middle" fill="#1f1f1f" stroke="#1f1f1f" stroke-width="0.1">−100</text>
<text x="118.60" y="782.20" font-family='"DejaVu Sans", sans-serif' font-size="9.05" text-anchor="middle" fill="#1f1f1f" stroke="#1f1f1f" stroke-width="0.1">−80</text>
<text x="174.85" y="782.20" font-family='"DejaVu Sans", sans-serif' font-size="9.05" text-anchor="middle" fill="#1f1f1f" stroke="#1f1f1f" stroke-width="0.1">−60</text>
<text x="231.10" y="782.20" font-family='"DejaVu Sans", sans-serif' font-size="9.05" text-anchor="middle" fill="#1f1f1f" stroke="#1f1f1f" stroke-width="0.1">−40</text>
<text x="287.35" y="782.20" font-family='"DejaVu Sans", sans-serif' font-size="9.05" text-anchor="middle" fill="#1f1f1f" stroke="#1f1f1f" stroke-width="0.1">−20</text>
<text x="343.60" y="782.20" font-family='"DejaVu Sans", sans-serif' font-size="9.05" text-anchor="middle" fill="#1f1f1f" stroke="#1f1f1f" stroke-width="0.1">0</text>
<text x="203.30" y="795.80" font-family='"DejaVu Sans", sans-serif' font-size="11.25" text-anchor="middle" fill="#1f1f1f" stroke="#1f1f1f" stroke-width="0.2">Max response (%)</text>
<text x="18.00" y="498.10" font-family='"DejaVu Sans", sans-serif' font-size="11.25" text-anchor="middle" transform="rotate(-90 18.00 498.10)" fill="#1f1f1f" stroke="#1f1f1f" stroke-width="0.2">docking</text>
<text x="30.75" y="498.10" font-family='"DejaVu Sans", sans-serif' font-size="11.25" text-anchor="middle" transform="rotate(-90 30.75 498.10)" fill="#1f1f1f" stroke="#1f1f1f" stroke-width="0.2">score</text>
<text x="9.60" y="609.60" font-family='"DejaVu Sans", sans-serif' font-size="11.25" text-anchor="middle" transform="rotate(-90 9.60 609.60)" fill="#1f1f1f" stroke="#1f1f1f" stroke-width="0.2">static</text>
<text x="22.00" y="610.00" font-family='"DejaVu Sans", sans-serif' font-size="11.25" text-anchor="middle" transform="rotate(-90 22.00 610.00)" fill="#1f1f1f" stroke="#1f1f1f" stroke-width="0.2">h-score</text>
<text x="9.50" y="721.30" font-family='"DejaVu Sans", sans-serif' font-size="11.25" text-anchor="middle" transform="rotate(-90 9.50 721.30)" fill="#1f1f1f" stroke="#1f1f1f" stroke-width="0.2">dynamic</text>
<text x="22.00" y="721.80" font-family='"DejaVu Sans", sans-serif' font-size="11.25" text-anchor="middle" transform="rotate(-90 22.00 721.80)" fill="#1f1f1f" stroke="#1f1f1f" stroke-width="0.2">h-score</text>
<text x="198.30" y="470.80" font-family='"DejaVu Sans", sans-serif' font-size="11.25" text-anchor="end" fill="#1f1f1f" stroke="#1f1f1f" stroke-width="0.2">TP : 3</text>
<text x="198.30" y="489.80" font-family='"DejaVu Sans", sans-serif' font-size="11.25" text-anchor="end" fill="#1f1f1f" stroke="#1f1f1f" stroke-width="0.2">FN : 5</text>
<text x="209.80" y="470.80" font-family='"DejaVu Sans", sans-serif' font-size="11.25" fill="#1f1f1f" stroke="#1f1f1f" stroke-width="0.2">FP*: 7</text>
<text x="209.80" y="489.80" font-family='"DejaVu Sans", sans-serif' font-size="11.25" fill="#1f1f1f" stroke="#1f1f1f" stroke-width="0.2">TN : 36</text>
<text x="304.40" y="460.00" font-family='"DejaVu Sans", sans-serif' font-size="11.25" fill="#1f1f1f" stroke="#1f1f1f" stroke-width="0.2">r = 0.44</text>
<text x="198.30" y="631.70" font-family='"DejaVu Sans", sans-serif' font-size="11.25" text-anchor="end" fill="#1f1f1f" stroke="#1f1f1f" stroke-width="0.2">TP : 4</text>
<text x="198.30" y="649.80" font-family='"DejaVu Sans", sans-serif' font-size="11.25" text-anchor="end" fill="#1f1f1f" stroke="#1f1f1f" stroke-width="0.2">FN : 4</text>
<text x="209.80" y="631.70" font-family='"DejaVu Sans", sans-serif' font-size="11.25" fill="#1f1f1f" stroke="#1f1f1f" stroke-width="0.2">FP*: 6</text>
<text x="209.80" y="649.80" font-family='"DejaVu Sans", sans-serif' font-size="11.25" fill="#1f1f1f" stroke="#1f1f1f" stroke-width="0.2">TN : 37</text>
<text x="304.40" y="571.60" font-family='"DejaVu Sans", sans-serif' font-size="11.25" fill="#1f1f1f" stroke="#1f1f1f" stroke-width="0.2">r = -0.7</text>
<text x="198.30" y="742.90" font-family='"DejaVu Sans", sans-serif' font-size="11.25" text-anchor="end" fill="#1f1f1f" stroke="#1f1f1f" stroke-width="0.2">TP : 7</text>
<text x="198.30" y="761.20" font-family='"DejaVu Sans", sans-serif' font-size="11.25" text-anchor="end" fill="#1f1f1f" stroke="#1f1f1f" stroke-width="0.2">FN : 1</text>
<text x="209.80" y="742.90" font-family='"DejaVu Sans", sans-serif' font-size="11.25" fill="#1f1f1f" stroke="#1f1f1f" stroke-width="0.2">FP*: 3</text>
<text x="209.80" y="761.20" font-family='"DejaVu Sans", sans-serif' font-size="11.25" fill="#1f1f1f" stroke="#1f1f1f" stroke-width="0.2">TN : 40</text>
<text x="304.40" y="682.80" font-family='"DejaVu Sans", sans-serif' font-size="11.25" fill="#1f1f1f" stroke="#1f1f1f" stroke-width="0.2">r = -0.77</text>
<rect x="53.3" y="510.5" width="83.2" height="30" rx="1.5" fill="#ffffff" fill-opacity="0.8" stroke="#cccccc" stroke-width="0.8"/>
<rect x="59.85" y="516.25" width="4.30" height="4.30" fill="#808080" fill-opacity="0.8" stroke="#808080" stroke-opacity="0.8" stroke-width="1.3"/>
<circle cx="62.00" cy="532.60" r="2.25" fill="#808080" fill-opacity="0.8" stroke="#808080" stroke-opacity="0.8" stroke-width="1.3"/>
<text x="74.30" y="521.70" font-family='"DejaVu Sans", sans-serif' font-size="9.5" fill="#1f1f1f" stroke="#1f1f1f" stroke-width="0.1">reactive</text>
<text x="74.30" y="535.60" font-family='"DejaVu Sans", sans-serif' font-size="9.5" fill="#1f1f1f" stroke="#1f1f1f" stroke-width="0.1">non-reactive</text>
<circle cx="456.25" cy="728.75" r="3.4" fill="#7f7f7f" fill-opacity="0.95"/>
<circle cx="479.00" cy="693.75" r="3.4" fill="#7f7f7f" fill-opacity="0.95"/>
<circle cx="482.50" cy="658.25" r="3.4" fill="#7f7f7f" fill-opacity="0.95"/>
<circle cx="497.50" cy="716.25" r="3.4" fill="#7f7f7f" fill-opacity="0.95"/>
<circle cx="517.25" cy="662.75" r="3.4" fill="#7f7f7f" fill-opacity="0.95"/>
<circle cx="528.75" cy="703.50" r="3.4" fill="#7f7f7f" fill-opacity="0.95"/>
<circle cx="529.75" cy="694.25" r="3.4" fill="#7f7f7f" fill-opacity="0.95"/>
<circle cx="533.25" cy="686.75" r="3.4" fill="#7f7f7f" fill-opacity="0.95"/>
<circle cx="533.50" cy="674.50" r="3.4" fill="#7f7f7f" fill-opacity="0.95"/>
<circle cx="536.00" cy="669.00" r="3.4" fill="#7f7f7f" fill-opacity="0.95"/>
<circle cx="545.75" cy="690.25" r="3.4" fill="#7f7f7f" fill-opacity="0.95"/>
<circle cx="549.50" cy="677.75" r="3.4" fill="#7f7f7f" fill-opacity="0.95"/>
<circle cx="554.50" cy="681.25" r="3.4" fill="#7f7f7f" fill-opacity="0.95"/>
<circle cx="551.75" cy="653.75" r="3.4" fill="#7f7f7f" fill-opacity="0.95"/>
<circle cx="555.75" cy="641.75" r="3.4" fill="#7f7f7f" fill-opacity="0.95"/>
<circle cx="556.50" cy="711.00" r="3.4" fill="#7f7f7f" fill-opacity="0.95"/>
<circle cx="569.75" cy="688.25" r="3.4" fill="#7f7f7f" fill-opacity="0.95"/>
<circle cx="575.25" cy="673.00" r="3.4" fill="#7f7f7f" fill-opacity="0.95"/>
<circle cx="575.25" cy="663.25" r="3.4" fill="#7f7f7f" fill-opacity="0.95"/>
<circle cx="576.00" cy="657.00" r="3.4" fill="#7f7f7f" fill-opacity="0.95"/>
<circle cx="508.75" cy="615.25" r="3.4" fill="#7f7f7f" fill-opacity="0.95"/>
<circle cx="517.75" cy="594.75" r="3.4" fill="#7f7f7f" fill-opacity="0.95"/>
<circle cx="565.00" cy="615.50" r="3.4" fill="#7f7f7f" fill-opacity="0.95"/>
<circle cx="567.50" cy="605.25" r="3.4" fill="#7f7f7f" fill-opacity="0.95"/>
<circle cx="569.25" cy="595.00" r="3.4" fill="#7f7f7f" fill-opacity="0.95"/>
<circle cx="572.00" cy="591.25" r="3.4" fill="#7f7f7f" fill-opacity="0.95"/>
<circle cx="574.50" cy="577.00" r="3.4" fill="#7f7f7f" fill-opacity="0.95"/>
<circle cx="588.50" cy="610.25" r="3.4" fill="#7f7f7f" fill-opacity="0.95"/>
<circle cx="590.50" cy="601.25" r="3.4" fill="#7f7f7f" fill-opacity="0.95"/>
<circle cx="588.00" cy="587.50" r="3.4" fill="#7f7f7f" fill-opacity="0.95"/>
<circle cx="586.50" cy="565.50" r="3.4" fill="#7f7f7f" fill-opacity="0.95"/>
<circle cx="587.50" cy="549.75" r="3.4" fill="#7f7f7f" fill-opacity="0.95"/>
<circle cx="598.50" cy="543.00" r="3.4" fill="#7f7f7f" fill-opacity="0.95"/>
<circle cx="600.25" cy="573.75" r="3.4" fill="#7f7f7f" fill-opacity="0.95"/>
<circle cx="604.00" cy="598.75" r="3.4" fill="#7f7f7f" fill-opacity="0.95"/>
<circle cx="607.75" cy="598.75" r="3.4" fill="#7f7f7f" fill-opacity="0.95"/>
<circle cx="609.25" cy="579.00" r="3.4" fill="#7f7f7f" fill-opacity="0.95"/>
<circle cx="611.25" cy="576.25" r="3.4" fill="#7f7f7f" fill-opacity="0.95"/>
<circle cx="611.25" cy="546.00" r="3.4" fill="#7f7f7f" fill-opacity="0.95"/>
<circle cx="615.50" cy="568.75" r="3.4" fill="#7f7f7f" fill-opacity="0.95"/>
<circle cx="616.75" cy="581.00" r="3.4" fill="#7f7f7f" fill-opacity="0.95"/>
<circle cx="616.75" cy="593.00" r="3.4" fill="#7f7f7f" fill-opacity="0.95"/>
<circle cx="614.00" cy="620.25" r="3.4" fill="#7f7f7f" fill-opacity="0.95"/>
<circle cx="622.25" cy="573.50" r="3.4" fill="#7f7f7f" fill-opacity="0.95"/>
<circle cx="627.75" cy="572.50" r="3.4" fill="#7f7f7f" fill-opacity="0.95"/>
<circle cx="624.50" cy="606.00" r="3.4" fill="#7f7f7f" fill-opacity="0.95"/>
<circle cx="629.00" cy="614.50" r="3.4" fill="#7f7f7f" fill-opacity="0.95"/>
<circle cx="628.75" cy="586.50" r="3.4" fill="#7f7f7f" fill-opacity="0.95"/>
<circle cx="631.50" cy="585.00" r="3.4" fill="#7f7f7f" fill-opacity="0.95"/>
<circle cx="631.25" cy="590.00" r="3.4" fill="#7f7f7f" fill-opacity="0.95"/>
<circle cx="635.00" cy="587.00" r="3.4" fill="#7f7f7f" fill-opacity="0.95"/>
<circle cx="633.25" cy="553.25" r="3.4" fill="#7f7f7f" fill-opacity="0.95"/>
<circle cx="640.00" cy="577.50" r="3.4" fill="#7f7f7f" fill-opacity="0.95"/>
<circle cx="640.00" cy="590.00" r="3.4" fill="#7f7f7f" fill-opacity="0.95"/>
<circle cx="648.25" cy="505.50" r="3.4" fill="#7f7f7f" fill-opacity="0.95"/>
<circle cx="620.50" cy="537.25" r="3.4" fill="#7f7f7f" fill-opacity="0.95"/>
<circle cx="653.00" cy="548.75" r="3.4" fill="#7f7f7f" fill-opacity="0.95"/>
<circle cx="642.00" cy="561.50" r="3.4" fill="#7f7f7f" fill-opacity="0.95"/>
<circle cx="660.00" cy="525.75" r="3.4" fill="#7f7f7f" fill-opacity="0.95"/>
<circle cx="658.50" cy="529.50" r="3.4" fill="#7f7f7f" fill-opacity="0.95"/>
<circle cx="660.75" cy="534.75" r="3.4" fill="#7f7f7f" fill-opacity="0.95"/>
<circle cx="665.00" cy="534.00" r="3.4" fill="#7f7f7f" fill-opacity="0.95"/>
<circle cx="671.75" cy="540.25" r="3.4" fill="#7f7f7f" fill-opacity="0.95"/>
<circle cx="677.50" cy="525.25" r="3.4" fill="#7f7f7f" fill-opacity="0.95"/>
<circle cx="686.50" cy="523.25" r="3.4" fill="#7f7f7f" fill-opacity="0.95"/>
<circle cx="684.50" cy="527.50" r="3.4" fill="#7f7f7f" fill-opacity="0.95"/>
<circle cx="685.50" cy="538.50" r="3.4" fill="#7f7f7f" fill-opacity="0.95"/>
<circle cx="680.00" cy="549.50" r="3.4" fill="#7f7f7f" fill-opacity="0.95"/>
<circle cx="692.50" cy="542.75" r="3.4" fill="#7f7f7f" fill-opacity="0.95"/>
<circle cx="696.75" cy="541.25" r="3.4" fill="#7f7f7f" fill-opacity="0.95"/>
<circle cx="699.50" cy="545.50" r="3.4" fill="#7f7f7f" fill-opacity="0.95"/>
<circle cx="706.25" cy="542.50" r="3.4" fill="#7f7f7f" fill-opacity="0.95"/>
<circle cx="701.75" cy="525.25" r="3.4" fill="#7f7f7f" fill-opacity="0.95"/>
<circle cx="705.00" cy="526.00" r="3.4" fill="#7f7f7f" fill-opacity="0.95"/>
<circle cx="708.25" cy="533.00" r="3.4" fill="#7f7f7f" fill-opacity="0.95"/>
<circle cx="710.75" cy="536.00" r="3.4" fill="#7f7f7f" fill-opacity="0.95"/>
<circle cx="714.50" cy="512.75" r="3.4" fill="#7f7f7f" fill-opacity="0.95"/>
<circle cx="717.50" cy="527.25" r="3.4" fill="#7f7f7f" fill-opacity="0.95"/>
<circle cx="720.50" cy="530.25" r="3.4" fill="#7f7f7f" fill-opacity="0.95"/>
<circle cx="726.25" cy="525.50" r="3.4" fill="#7f7f7f" fill-opacity="0.95"/>
<circle cx="726.25" cy="537.75" r="3.4" fill="#7f7f7f" fill-opacity="0.95"/>
<circle cx="727.75" cy="540.50" r="3.4" fill="#7f7f7f" fill-opacity="0.95"/>
<circle cx="717.25" cy="547.25" r="3.4" fill="#7f7f7f" fill-opacity="0.95"/>
<circle cx="721.75" cy="549.50" r="3.4" fill="#7f7f7f" fill-opacity="0.95"/>
<circle cx="733.75" cy="517.50" r="3.4" fill="#7f7f7f" fill-opacity="0.95"/>
<circle cx="738.75" cy="522.75" r="3.4" fill="#7f7f7f" fill-opacity="0.95"/>
<circle cx="747.00" cy="499.50" r="3.4" fill="#7f7f7f" fill-opacity="0.95"/>
<circle cx="754.25" cy="524.00" r="3.4" fill="#7f7f7f" fill-opacity="0.95"/>
<circle cx="743.50" cy="541.75" r="3.4" fill="#7f7f7f" fill-opacity="0.95"/>
<circle cx="764.75" cy="540.50" r="3.4" fill="#7f7f7f" fill-opacity="0.95"/>
<circle cx="771.00" cy="543.00" r="3.4" fill="#7f7f7f" fill-opacity="0.95"/>
<circle cx="787.00" cy="513.25" r="3.4" fill="#7f7f7f" fill-opacity="0.95"/>
<circle cx="788.00" cy="515.75" r="3.4" fill="#7f7f7f" fill-opacity="0.95"/>
<circle cx="768.75" cy="563.00" r="3.4" fill="#7f7f7f" fill-opacity="0.95"/>
<circle cx="752.50" cy="576.50" r="3.4" fill="#7f7f7f" fill-opacity="0.95"/>
<circle cx="731.25" cy="573.25" r="3.4" fill="#7f7f7f" fill-opacity="0.95"/>
<circle cx="717.25" cy="578.50" r="3.4" fill="#7f7f7f" fill-opacity="0.95"/>
<circle cx="714.25" cy="585.50" r="3.4" fill="#7f7f7f" fill-opacity="0.95"/>
<circle cx="707.75" cy="581.75" r="3.4" fill="#7f7f7f" fill-opacity="0.95"/>
<circle cx="706.75" cy="561.00" r="3.4" fill="#7f7f7f" fill-opacity="0.95"/>
<circle cx="696.25" cy="556.75" r="3.4" fill="#7f7f7f" fill-opacity="0.95"/>
<circle cx="690.75" cy="563.50" r="3.4" fill="#7f7f7f" fill-opacity="0.95"/>
<circle cx="694.25" cy="568.25" r="3.4" fill="#7f7f7f" fill-opacity="0.95"/>
<circle cx="686.75" cy="567.50" r="3.4" fill="#7f7f7f" fill-opacity="0.95"/>
<circle cx="681.25" cy="569.75" r="3.4" fill="#7f7f7f" fill-opacity="0.95"/>
<circle cx="691.25" cy="576.00" r="3.4" fill="#7f7f7f" fill-opacity="0.95"/>
<circle cx="679.50" cy="579.25" r="3.4" fill="#7f7f7f" fill-opacity="0.95"/>
<circle cx="679.75" cy="584.75" r="3.4" fill="#7f7f7f" fill-opacity="0.95"/>
<circle cx="680.00" cy="589.50" r="3.4" fill="#7f7f7f" fill-opacity="0.95"/>
<circle cx="693.00" cy="595.50" r="3.4" fill="#7f7f7f" fill-opacity="0.95"/>
<circle cx="671.00" cy="560.25" r="3.4" fill="#7f7f7f" fill-opacity="0.95"/>
<circle cx="663.00" cy="565.00" r="3.4" fill="#7f7f7f" fill-opacity="0.95"/>
<circle cx="668.75" cy="569.25" r="3.4" fill="#7f7f7f" fill-opacity="0.95"/>
<circle cx="666.25" cy="571.50" r="3.4" fill="#7f7f7f" fill-opacity="0.95"/>
<circle cx="661.75" cy="575.75" r="3.4" fill="#7f7f7f" fill-opacity="0.95"/>
<circle cx="657.25" cy="583.00" r="3.4" fill="#7f7f7f" fill-opacity="0.95"/>
<circle cx="659.00" cy="587.00" r="3.4" fill="#7f7f7f" fill-opacity="0.95"/>
<circle cx="650.75" cy="582.00" r="3.4" fill="#7f7f7f" fill-opacity="0.95"/>
<circle cx="649.00" cy="589.50" r="3.4" fill="#7f7f7f" fill-opacity="0.95"/>
<circle cx="640.00" cy="576.25" r="3.4" fill="#7f7f7f" fill-opacity="0.95"/>
<circle cx="641.25" cy="579.00" r="3.4" fill="#7f7f7f" fill-opacity="0.95"/>
<circle cx="640.75" cy="588.00" r="3.4" fill="#7f7f7f" fill-opacity="0.95"/>
<circle cx="640.50" cy="591.25" r="3.4" fill="#7f7f7f" fill-opacity="0.95"/>
<circle cx="645.00" cy="598.00" r="3.4" fill="#7f7f7f" fill-opacity="0.95"/>
<circle cx="611.25" cy="575.75" r="3.4" fill="#7f7f7f" fill-opacity="0.95"/>
<circle cx="609.00" cy="579.25" r="3.4" fill="#7f7f7f" fill-opacity="0.95"/>
<circle cx="616.50" cy="593.00" r="3.4" fill="#7f7f7f" fill-opacity="0.95"/>
<circle cx="629.00" cy="586.25" r="3.4" fill="#7f7f7f" fill-opacity="0.95"/>
<circle cx="607.50" cy="598.00" r="3.4" fill="#7f7f7f" fill-opacity="0.95"/>
<circle cx="603.75" cy="598.00" r="3.4" fill="#7f7f7f" fill-opacity="0.95"/>
<circle cx="669.00" cy="620.25" r="3.4" fill="#7f7f7f" fill-opacity="0.95"/>
<circle cx="667.00" cy="625.00" r="3.4" fill="#7f7f7f" fill-opacity="0.95"/>
<circle cx="648.25" cy="644.00" r="3.4" fill="#7f7f7f" fill-opacity="0.95"/>
<circle cx="682.75" cy="604.75" r="3.4" fill="#7f7f7f" fill-opacity="0.95"/>
<circle cx="693.75" cy="609.25" r="3.4" fill="#7f7f7f" fill-opacity="0.95"/>
<path d="M445.3,767.7 L799.2,449.6" stroke="#a01c14" stroke-width="1.5" stroke-dasharray="5 2.2" fill="none"/>
<rect x="445.3" y="449.6" width="353.90" height="318.10" fill="none" stroke="#555555" stroke-width="1"/>
<path d="M480.32,767.7 v3.3" stroke="#444" stroke-width="1"/>
<text x="480.32" y="782.20" font-family='"DejaVu Sans", sans-serif' font-size="9.05" text-anchor="middle" fill="#1f1f1f" stroke="#1f1f1f" stroke-width="0.1">2</text>
<path d="M445.3,736.59 h-3.3" stroke="#444" stroke-width="1"/>
<text x="438.70" y="740.49" font-family='"DejaVu Sans", sans-serif' font-size="9.05" text-anchor="end" fill="#1f1f1f" stroke="#1f1f1f" stroke-width="0.1">2</text>
<path d="M551.16,767.7 v3.3" stroke="#444" stroke-width="1"/>
<text x="551.16" y="782.20" font-family='"DejaVu Sans", sans-serif' font-size="9.05" text-anchor="middle" fill="#1f1f1f" stroke="#1f1f1f" stroke-width="0.1">4</text>
<path d="M445.3,672.87 h-3.3" stroke="#444" stroke-width="1"/>
<text x="438.70" y="676.77" font-family='"DejaVu Sans", sans-serif' font-size="9.05" text-anchor="end" fill="#1f1f1f" stroke="#1f1f1f" stroke-width="0.1">4</text>
<path d="M622.00,767.7 v3.3" stroke="#444" stroke-width="1"/>
<text x="622.00" y="782.20" font-family='"DejaVu Sans", sans-serif' font-size="9.05" text-anchor="middle" fill="#1f1f1f" stroke="#1f1f1f" stroke-width="0.1">6</text>
<path d="M445.3,609.15 h-3.3" stroke="#444" stroke-width="1"/>
<text x="438.70" y="613.05" font-family='"DejaVu Sans", sans-serif' font-size="9.05" text-anchor="end" fill="#1f1f1f" stroke="#1f1f1f" stroke-width="0.1">6</text>
<path d="M692.84,767.7 v3.3" stroke="#444" stroke-width="1"/>
<text x="692.84" y="782.20" font-family='"DejaVu Sans", sans-serif' font-size="9.05" text-anchor="middle" fill="#1f1f1f" stroke="#1f1f1f" stroke-width="0.1">8</text>
<path d="M445.3,545.43 h-3.3" stroke="#444" stroke-width="1"/>
<text x="438.70" y="549.33" font-family='"DejaVu Sans", sans-serif' font-size="9.05" text-anchor="end" fill="#1f1f1f" stroke="#1f1f1f" stroke-width="0.1">8</text>
<path d="M763.68,767.7 v3.3" stroke="#444" stroke-width="1"/>
<text x="763.68" y="782.20" font-family='"DejaVu Sans", sans-serif' font-size="9.05" text-anchor="middle" fill="#1f1f1f" stroke="#1f1f1f" stroke-width="0.1">10</text>
<path d="M445.3,481.71 h-3.3" stroke="#444" stroke-width="1"/>
<text x="438.70" y="485.61" font-family='"DejaVu Sans", sans-serif' font-size="9.05" text-anchor="end" fill="#1f1f1f" stroke="#1f1f1f" stroke-width="0.1">10</text>
<text x="622.00" y="795.80" font-family='"DejaVu Sans", sans-serif' font-size="11.25" text-anchor="middle" fill="#1f1f1f" stroke="#1f1f1f" stroke-width="0.2">True binding affinity (-log10(Ki/Kd))</text>
<text x="420.70" y="608.80" font-family='"DejaVu Sans", sans-serif' font-size="11.25" text-anchor="middle" transform="rotate(-90 420.70 608.80)" fill="#1f1f1f" stroke="#1f1f1f" stroke-width="0.2">Predicted binding affinity (-log10(Ki/Kd))</text>
<text x="773.80" y="464.40" font-family='"DejaVu Sans", sans-serif' font-size="11.25" text-anchor="end" fill="#1f1f1f" stroke="#1f1f1f" stroke-width="0.2">r = 0.80</text>
</svg>
</body></html>
